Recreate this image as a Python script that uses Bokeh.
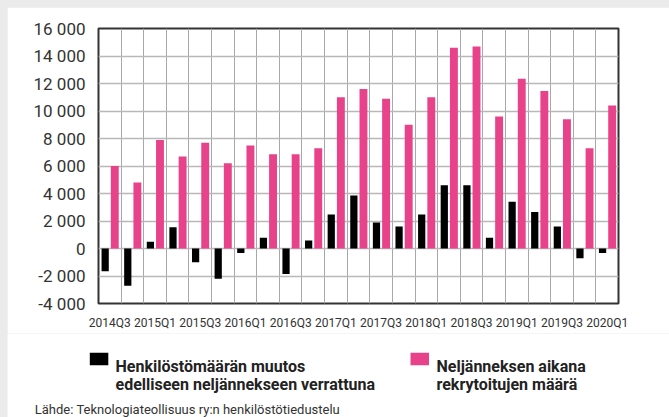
import numpy as np
from bokeh.plotting import figure
from bokeh.layouts import column
from bokeh.models import Range1d, FixedTicker
from bokeh.core.properties import value
from bokeh.embed import file_html
from bokeh.resources import INLINE

# ---- data ----
quarters = ["2014Q3", "2014Q4",
            "2015Q1", "2015Q2", "2015Q3", "2015Q4",
            "2016Q1", "2016Q2", "2016Q3", "2016Q4",
            "2017Q1", "2017Q2", "2017Q3", "2017Q4",
            "2018Q1", "2018Q2", "2018Q3", "2018Q4",
            "2019Q1", "2019Q2", "2019Q3", "2019Q4",
            "2020Q1"]
henkilosto_muutos = [-1650, -2700, 500, 1550, -1000, -2200, -330, 780, -1850, 580,
                     2480, 3860, 1900, 1600, 2480, 4600, 4600, 780, 3400, 2650,
                     1600, -700, -330]
rekrytoidut = [6000, 4800, 7900, 6700, 7700, 6200, 7500, 6850, 6850, 7300,
               11000, 11600, 10900, 9000, 11000, 14600, 14700, 9600, 12350, 11450,
               9400, 7300, 10400]
y_ticks = [-4000, -2000, 0, 2000, 4000, 6000, 8000, 10000, 12000, 14000, 16000]
y_tick_labels = ["-4 000", "-2 000", "0", "2 000", "4 000", "6 000", "8 000",
                 "10 000", "12 000", "14 000", "16 000"]
legend_lines = [["Henkilöstömäärän muutos", "edelliseen neljännekseen verrattuna"],
                ["Neljänneksen aikana", "rekrytoitujen määrä"]]
source_text = "Lähde: Teknologiateollisuus ry:n henkilöstötiedustelu"

BLACK = "#000000"
PINK = "#e8438a"
FONT = "Roboto"
TXT = "#333333"
W = 662

n = len(quarters)
idx = np.arange(n)

# ---------------- main chart ----------------
p = figure(frame_width=520, frame_height=275, output_backend="svg",
           toolbar_location=None,
           x_range=Range1d(-0.5, n - 0.5), y_range=Range1d(-4000, 16000),
           min_border_left=91, min_border_right=51, min_border_top=21,
           min_border_bottom=30)
p.background_fill_color = "white"
p.border_fill_color = "white"
p.outline_line_color = "#333333"
p.outline_line_width = 2

p.vbar(x=idx - 0.205, top=henkilosto_muutos, bottom=0, width=0.32,
       fill_color=BLACK, line_color=None)
p.vbar(x=idx + 0.22, top=rekrytoidut, bottom=0, width=0.35,
       fill_color=PINK, line_color=None)

p.xaxis.ticker = FixedTicker(ticks=list(range(0, n, 2)))
p.xaxis.major_label_overrides = {i: quarters[i] for i in range(0, n, 2)}
p.yaxis.ticker = FixedTicker(ticks=y_ticks)
p.yaxis.major_label_overrides = {t: l for t, l in zip(y_ticks, y_tick_labels)}
for ax in (p.xaxis[0], p.yaxis[0]):
    ax.axis_line_color = None
    ax.major_tick_line_color = None
    ax.minor_tick_line_color = None
    ax.major_label_text_font = FONT
    ax.major_label_text_color = TXT
p.xaxis.major_label_text_font_size = "12px"
p.xaxis.major_label_standoff = 6
p.yaxis.major_label_text_font_size = "17px"
p.yaxis.major_label_standoff = 7

p.xgrid.ticker = FixedTicker(ticks=[i + 0.5 for i in range(n - 1)])
p.xgrid.grid_line_color = "#a8a8a8"
p.xgrid.grid_line_width = 1
p.ygrid.grid_line_color = "#b8b8b8"
p.ygrid.grid_line_width = 1.5

# ---------------- legend + source strip (pixel coordinates) ----------------
LH = 84
leg = figure(width=W, height=LH, output_backend="svg", toolbar_location=None,
             x_range=Range1d(0, W), y_range=Range1d(LH, 0),
             x_axis_type=None, y_axis_type=None, min_border=0)
leg.grid.visible = False
leg.outline_line_color = None
leg.background_fill_color = "white"
leg.border_fill_color = "white"

# keep each figure's frame where it is (no frame alignment in the column)
for fig in (p, leg):
    if "frame_align" in fig.properties():
        fig.frame_align = False

sw_left = [82.3, 403.0]
leg.quad(left=sw_left, right=[s + 18.5 for s in sw_left],
         top=[19.3, 19.3], bottom=[31.8, 31.8],
         fill_color=[BLACK, PINK], line_color=None)
tx = [108.0, 108.0, 429.0, 429.0]
ty = [33.2, 50.9, 33.2, 50.9]
tt = [legend_lines[0][0], legend_lines[0][1], legend_lines[1][0], legend_lines[1][1]]
leg.text(x=tx, y=ty, text=tt, text_font=value(FONT), text_font_style="bold",
         text_font_size="16px", text_color="#222222", text_baseline="alphabetic",
         text_align="left")
leg.text(x=[27.3], y=[76.0], text=[source_text], text_font=value(FONT),
         text_font_size="13px", text_color=TXT, text_baseline="alphabetic",
         text_align="left")

layout = column(p, leg, spacing=0)
html = file_html(layout, INLINE)
html = html.replace("</head>",
                    "<style>html body{background:#ebebeb;padding:7px 0 0 7px;}</style></head>", 1)
open("out.html", "w").write(html)
